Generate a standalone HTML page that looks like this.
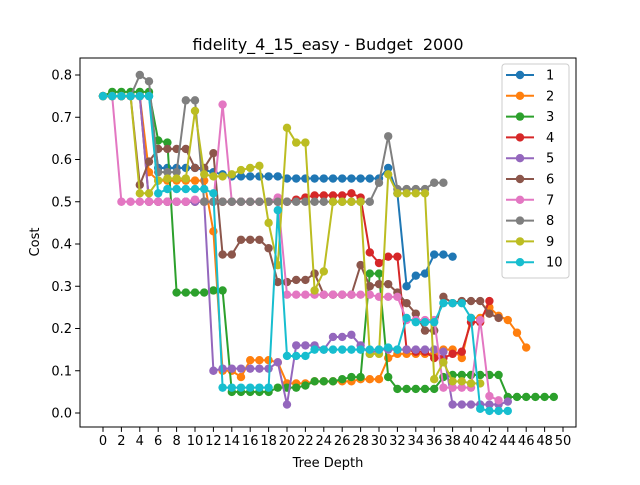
<!DOCTYPE html>
<html><head><meta charset="utf-8"><style>
body{margin:0;background:#fff;font-family:"Liberation Sans","DejaVu Sans",sans-serif}
svg text{font-family:"DejaVu Sans","Liberation Sans",sans-serif}
</style></head><body>
<svg id="chart" width="640" height="480" xmlns="http://www.w3.org/2000/svg"></svg>
<script>
const seriesNames=["1","2","3","4","5","6","7","8","9","10"];
const colors=["#1f77b4","#ff7f0e","#2ca02c","#d62728","#9467bd","#8c564b","#e377c2","#7f7f7f","#bcbd22","#17becf"];
const xTicks=[0,2,4,6,8,10,12,14,16,18,20,22,24,26,28,30,32,34,36,38,40,42,44,46,48,50];
const yTicks=[0.0,0.1,0.2,0.3,0.4,0.5,0.6,0.7,0.8];
const s1=[0.75,0.75,0.75,0.75,0.75,0.75,0.58,0.58,0.58,0.58,0.58,0.575,0.57,0.565,0.56,0.56,0.56,0.56,0.56,0.56,0.555,0.555,0.555,0.555,0.555,0.555,0.555,0.555,0.555,0.555,0.555,0.58,0.52,0.30,0.325,0.33,0.375,0.375,0.37];
const s2=[0.75,0.75,0.75,0.75,0.75,0.57,0.55,0.55,0.55,0.55,0.55,0.55,0.43,0.10,0.10,0.085,0.125,0.125,0.125,0.12,0.07,0.07,0.07,0.075,0.075,0.075,0.075,0.075,0.08,0.08,0.08,0.13,0.14,0.14,0.14,0.14,0.14,0.15,0.15,0.13,0.225,0.225,0.25,0.23,0.22,0.19,0.155];
const s3=[0.75,0.76,0.76,0.76,0.76,0.76,0.645,0.64,0.285,0.285,0.285,0.285,0.29,0.29,0.05,0.05,0.05,0.05,0.05,0.06,0.06,0.06,0.065,0.075,0.075,0.075,0.08,0.085,0.085,0.33,0.33,0.085,0.057,0.057,0.057,0.057,0.057,0.085,0.09,0.09,0.09,0.09,0.09,0.09,0.038,0.038,0.038,0.038,0.038,0.038];
const s4=[0.75,0.75,0.75,0.75,0.75,0.5,0.5,0.5,0.5,0.5,0.5,0.5,0.5,0.5,0.5,0.5,0.5,0.5,0.5,0.5,0.5,0.505,0.51,0.515,0.515,0.515,0.515,0.52,0.51,0.38,0.355,0.37,0.37,0.15,0.145,0.145,0.13,0.13,0.14,0.145,0.215,0.215,0.265];
const s5=[0.75,0.75,0.75,0.75,0.75,0.5,0.5,0.5,0.5,0.5,0.5,0.5,0.10,0.105,0.105,0.105,0.105,0.105,0.105,0.12,0.02,0.16,0.16,0.16,0.15,0.18,0.18,0.185,0.16,0.14,0.15,0.15,0.15,0.15,0.15,0.15,0.15,0.145,0.02,0.02,0.02,0.02,0.02,0.02,0.027];
const s6=[0.75,0.75,0.75,0.75,0.54,0.595,0.625,0.625,0.625,0.625,0.58,0.58,0.615,0.375,0.375,0.41,0.41,0.41,0.39,0.31,0.31,0.315,0.315,0.33,0.28,0.28,0.28,0.28,0.35,0.30,0.305,0.305,0.285,0.26,0.235,0.195,0.195,0.275,0.26,0.265,0.265,0.265,0.235,0.225];
const s7=[0.75,0.75,0.5,0.5,0.5,0.5,0.5,0.5,0.5,0.5,0.505,0.5,0.5,0.73,0.5,0.5,0.5,0.5,0.5,0.51,0.28,0.28,0.28,0.28,0.28,0.28,0.28,0.28,0.28,0.28,0.275,0.275,0.275,0.22,0.22,0.22,0.22,0.06,0.06,0.06,0.06,0.22,0.04,0.03];
const s8=[0.75,0.75,0.75,0.75,0.80,0.785,0.57,0.57,0.57,0.74,0.74,0.50,0.50,0.50,0.50,0.50,0.50,0.50,0.50,0.50,0.50,0.50,0.50,0.50,0.50,0.50,0.50,0.50,0.50,0.50,0.545,0.655,0.53,0.53,0.53,0.53,0.545,0.545];
const s9=[0.75,0.75,0.75,0.75,0.52,0.52,0.55,0.555,0.555,0.555,0.715,0.565,0.56,0.56,0.565,0.575,0.58,0.585,0.45,0.35,0.675,0.64,0.64,0.29,0.335,0.50,0.50,0.50,0.50,0.14,0.14,0.565,0.52,0.52,0.52,0.52,0.08,0.12,0.075,0.075,0.07,0.07];
const s10=[0.75,0.75,0.75,0.75,0.75,0.75,0.52,0.53,0.53,0.53,0.53,0.53,0.52,0.06,0.06,0.06,0.06,0.06,0.06,0.48,0.135,0.135,0.135,0.15,0.15,0.15,0.15,0.15,0.15,0.15,0.15,0.155,0.15,0.225,0.215,0.215,0.215,0.26,0.26,0.26,0.225,0.01,0.005,0.005,0.005];
const allSeries=[s1,s2,s3,s4,s5,s6,s7,s8,s9,s10];

const NS="http://www.w3.org/2000/svg";
const svg=document.getElementById('chart');
const L=80,R=576,T=58,B=427;
const xS=d=>103+(d/50)*460;
const yS=v=>413-(v/0.8)*338;
function mk(tag,attrs,parent){const e=document.createElementNS(NS,tag);for(const k in attrs)e.setAttribute(k,attrs[k]);(parent||svg).appendChild(e);return e;}

const title=mk('text',{x:328,y:50,'text-anchor':'middle','font-size':16});
title.textContent='fidelity_4_15_easy - Budget\u00a0 2000';



const xg=mk('g',{});


xTicks.forEach(t=>{
  mk('line',{x1:xS(t),x2:xS(t),y1:B,y2:B+4.9,stroke:'#000','stroke-width':1},xg);
  const tx=mk('text',{x:xS(t),y:B+18,'text-anchor':'middle','font-size':13},xg);
  tx.textContent=t;
  
  
});
const xl=mk('text',{x:328,y:467,'text-anchor':'middle','font-size':13});
xl.textContent='Tree Depth';



const yg=mk('g',{});


yTicks.forEach(t=>{
  mk('line',{x1:L-4.9,x2:L,y1:yS(t),y2:yS(t),stroke:'#000','stroke-width':1},yg);
  const tx=mk('text',{x:L-8,y:yS(t)+4.5,'text-anchor':'end','font-size':13},yg);
  tx.textContent=t.toFixed(1);
  
  
});
const yl=mk('text',{x:0,y:0,'text-anchor':'middle','font-size':13,transform:'translate(39,242) rotate(-90)'});
yl.textContent='Cost';



const clip=mk('clipPath',{id:'pc'});mk('rect',{x:L,y:T,width:R-L,height:B-T},clip);
allSeries.forEach((s,i)=>{
  const g=mk('g',{'clip-path':'url(#pc)'});
  
  
  mk('polyline',{points:s.map((v,d)=>xS(d)+','+yS(v)).join(' '),fill:'none',stroke:colors[i],'stroke-width':2,'stroke-linejoin':'round'},g);
  s.forEach((v,d)=>{
    const c=mk('circle',{cx:xS(d),cy:yS(v),r:4.2,fill:colors[i]},g);
    
    
  });
});
const frame=mk('rect',{x:L,y:T,width:R-L,height:B-T,fill:'none',stroke:'#000','stroke-width':1});



const lg=mk('g',{});


mk('rect',{x:502,y:64,width:67,height:214,rx:3,fill:'#fff','fill-opacity':0.8,stroke:'#ccc'},lg);
seriesNames.forEach((n,i)=>{
  const y=75+i*20.8;
  const e=mk('g',{},lg);
  
  
  mk('line',{x1:506,x2:534,y1:y,y2:y,stroke:colors[i],'stroke-width':2},e);
  mk('circle',{cx:520,cy:y,r:4.2,fill:colors[i]},e);
  const t=mk('text',{x:546,y:y+4.5,'font-size':13},e);
  t.textContent=n;
});
</script>
</body></html>
